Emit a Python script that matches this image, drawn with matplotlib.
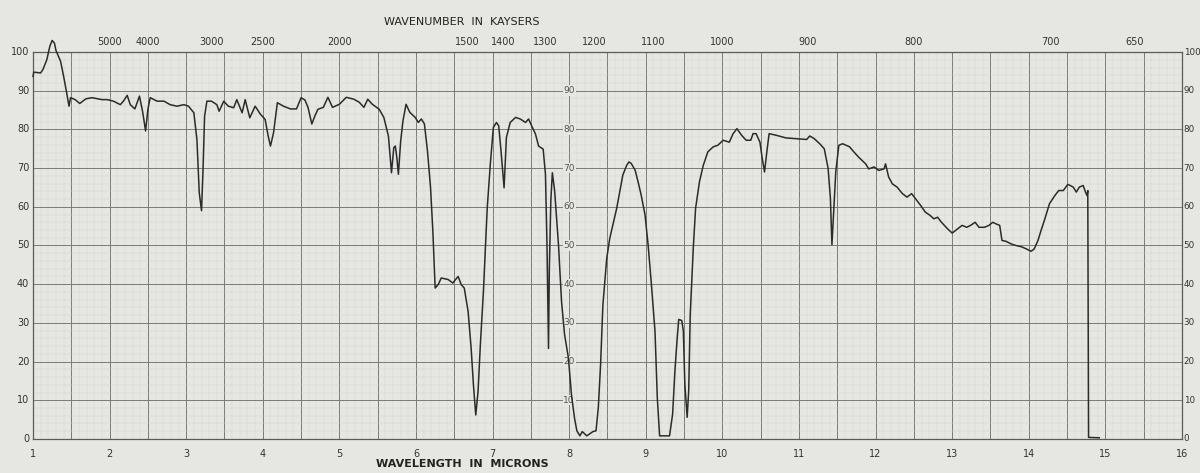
import numpy as np
import matplotlib
matplotlib.use("Agg")
import matplotlib.pyplot as plt

wavelength = [1.00, 1.01, 1.10, 1.13, 1.18, 1.22, 1.25, 1.28, 1.30, 1.36, 1.40, 1.44, 1.47, 1.49,
              1.55, 1.61, 1.69, 1.77, 1.90, 1.97, 2.05, 2.14, 2.18, 2.23, 2.27, 2.33, 2.39, 2.43,
              2.47, 2.50, 2.53, 2.62, 2.71, 2.79, 2.88, 2.97, 3.03, 3.10, 3.14, 3.17, 3.20, 3.22,
              3.24, 3.27, 3.33, 3.40, 3.43, 3.49, 3.55, 3.62, 3.66, 3.73, 3.77, 3.83, 3.90, 3.97,
              4.03, 4.07, 4.10, 4.14, 4.19, 4.27, 4.36, 4.44, 4.50, 4.55, 4.59, 4.64, 4.68, 4.72,
              4.79, 4.85, 4.91, 5.00, 5.09, 5.19, 5.26, 5.32, 5.37, 5.43, 5.52, 5.58, 5.64, 5.68,
              5.71, 5.73, 5.75, 5.77, 5.80, 5.83, 5.87, 5.92, 5.99, 6.03, 6.07, 6.11, 6.15, 6.19,
              6.22, 6.25, 6.29, 6.33, 6.42, 6.48, 6.55, 6.59, 6.63, 6.68, 6.72, 6.75, 6.78, 6.81,
              6.84, 6.88, 6.93, 6.97, 7.01, 7.05, 7.08, 7.11, 7.15, 7.18, 7.23, 7.30, 7.36, 7.43,
              7.47, 7.51, 7.56, 7.60, 7.66, 7.69, 7.71, 7.73, 7.74, 7.76, 7.78, 7.81, 7.86, 7.90,
              7.94, 7.99, 8.03, 8.07, 8.10, 8.14, 8.17, 8.23, 8.31, 8.35, 8.38, 8.41, 8.44, 8.49,
              8.53, 8.57, 8.62, 8.66, 8.70, 8.75, 8.78, 8.81, 8.86, 8.90, 8.94, 8.99, 9.03, 9.07,
              9.12, 9.15, 9.18, 9.31, 9.35, 9.38, 9.41, 9.43, 9.47, 9.49, 9.51, 9.54, 9.56, 9.58,
              9.62, 9.65, 9.70, 9.75, 9.81, 9.88, 9.94, 10.01, 10.09, 10.14, 10.19, 10.25, 10.31,
              10.37, 10.40, 10.44, 10.49, 10.52, 10.55, 10.58, 10.61, 10.70, 10.83, 10.97, 11.10,
              11.14, 11.20, 11.27, 11.33, 11.38, 11.41, 11.43, 11.45, 11.48, 11.52, 11.57, 11.66,
              11.72, 11.78, 11.87, 11.91, 11.98, 12.04, 12.11, 12.13, 12.17, 12.22, 12.28, 12.35,
              12.41, 12.47, 12.52, 12.59, 12.65, 12.71, 12.76, 12.81, 12.86, 12.94, 13.00, 13.07,
              13.13, 13.19, 13.24, 13.30, 13.35, 13.42, 13.48, 13.53, 13.57, 13.62, 13.65, 13.70,
              13.77, 13.83, 13.90, 13.97, 14.03, 14.07, 14.12, 14.16, 14.21, 14.27, 14.34, 14.39,
              14.45, 14.51, 14.58, 14.62, 14.66, 14.71, 14.74, 14.76, 14.77, 14.78, 14.92]
transmission = [93.7, 94.8, 94.6, 95.5, 98.0, 101.5, 103.0, 102.3, 100.4, 97.6, 93.7, 89.4, 86.0, 88.2,
                87.7, 86.7, 87.9, 88.2, 87.7, 87.7, 87.3, 86.4, 87.3, 88.8, 86.4, 85.3, 88.6, 84.7,
                79.6, 85.2, 88.2, 87.3, 87.3, 86.4, 86.0, 86.4, 86.0, 84.3, 77.4, 63.7, 59.0, 69.7,
                83.4, 87.3, 87.3, 86.4, 84.7, 87.3, 86.0, 85.6, 87.7, 84.3, 87.7, 83.0, 86.0, 83.9,
                82.6, 78.3, 75.7, 79.1, 86.9, 86.0, 85.3, 85.3, 88.2, 87.6, 85.7, 81.4, 83.5, 85.2,
                85.7, 88.3, 85.7, 86.5, 88.3, 87.8, 87.0, 85.7, 87.8, 86.5, 85.2, 83.1, 78.3, 68.8,
                75.3, 75.7, 72.7, 68.4, 77.0, 82.2, 86.5, 84.4, 83.1, 81.8, 82.7, 81.4, 74.4, 64.9,
                53.7, 39.0, 39.9, 41.6, 41.2, 40.3, 42.0, 39.9, 39.0, 33.0, 23.4, 13.9, 6.2, 12.2,
                24.3, 38.1, 59.7, 71.0, 80.5, 81.8, 80.9, 74.4, 64.9, 77.9, 81.8, 83.1, 82.7, 81.8,
                82.7, 80.9, 78.8, 75.7, 74.9, 68.4, 50.2, 23.4, 43.3, 61.5, 68.8, 64.1, 50.2, 35.5,
                26.9, 20.9, 11.3, 5.3, 2.1, 0.8, 1.9, 0.8, 1.9, 2.1, 8.1, 19.3, 34.7, 46.7,
                51.9, 55.3, 59.6, 63.9, 68.2, 70.7, 71.6, 71.2, 69.5, 66.4, 63.0, 57.9, 50.2, 40.7,
                27.9, 10.7, 0.8, 0.8, 6.4, 17.6, 26.1, 30.9, 30.6, 27.9, 14.1, 5.6, 12.4, 32.1,
                49.3, 59.6, 66.4, 70.7, 74.2, 75.5, 75.9, 77.2, 76.7, 78.9, 80.2, 78.5, 77.2,
                77.2, 78.9, 78.9, 76.7, 72.5, 69.0, 74.2, 78.9, 78.5, 77.8, 77.6, 77.4,
                78.3, 77.6, 76.3, 75.0, 69.9, 62.2, 50.2, 57.9, 69.0, 75.9, 76.3, 75.5,
                74.1, 72.8, 71.1, 69.8, 70.3, 69.4, 69.8, 71.1, 67.7, 65.9, 65.1, 63.4,
                62.5, 63.4, 62.1, 60.3, 58.6, 57.8, 56.9, 57.3, 56.0, 54.3, 53.2, 54.3,
                55.2, 54.7, 55.2, 56.0, 54.7, 54.7, 55.2, 56.0, 55.6, 55.2, 51.3, 51.1,
                50.4, 50.0, 49.7, 49.1, 48.5, 49.1, 51.3, 53.9, 56.9, 60.8, 62.9, 64.2,
                64.2, 65.8, 65.1, 63.8, 65.1, 65.5, 63.8, 62.9, 64.2, 0.4, 0.3]

micron_ticks = list(range(1, 17))
percent_ticks = list(range(0, 101, 10))
wavenumber_ticks = [5000, 4000, 3000, 2500, 2000, 1500, 1400, 1300, 1200, 1100, 1000, 900, 800, 700, 650]
inner_labels = [10, 20, 30, 40, 50, 60, 70, 80, 90]

paper = '#e6e6e3'
ink = '#2b2b2b'

fig = plt.figure(figsize=(12, 4.73), dpi=100, facecolor=paper)
ax = fig.add_axes([0.0275, 0.072, 0.9575, 0.818], facecolor=paper)

ax.set_xlim(1, 16)
ax.set_ylim(0, 100)

# chart paper grid
ax.set_xticks(np.arange(1, 16.01, 0.5))
ax.set_xticks(np.arange(1, 16.01, 0.1), minor=True)
ax.set_yticks(percent_ticks)
ax.set_yticks(np.arange(0, 101, 2), minor=True)
ax.grid(which='major', color='#7a7a78', lw=0.7)
ax.grid(which='minor', color='#d2d2cf', lw=0.3)
ax.tick_params(which='both', length=0, labelbottom=False, labelleft=False)
for s in ax.spines.values():
    s.set_color('#5a5a5a')
    s.set_linewidth(0.9)

ax.plot(wavelength, transmission, color=ink, lw=1.1, clip_on=False, zorder=5)

fs = 7
for m in micron_ticks:
    ax.text(m, -2.5, str(m), ha='center', va='top', fontsize=fs, color='#333')
for p in percent_ticks:
    ax.text(0.95, p, str(p), ha='right', va='center', fontsize=fs, color='#333')
    ax.text(16.02, p, str(p), ha='left', va='center', fontsize=6.3, color='#333')
for p in inner_labels:
    ax.text(8.0, p, str(p), ha='center', va='center', fontsize=6.5, color='#555',
            bbox=dict(facecolor=paper, edgecolor='none', pad=0.5), zorder=3)
for k in wavenumber_ticks:
    ax.text(10000.0 / k, 101.2, str(k), ha='center', va='bottom', fontsize=fs, color='#333')

ax.text(6.6, 106.5, 'WAVENUMBER  IN  KAYSERS', ha='center', va='bottom', fontsize=8, color='#222')
ax.text(6.6, -5.2, 'WAVELENGTH  IN  MICRONS', ha='center', va='top', fontsize=8,
        color='#222', fontweight='bold')

fig.savefig('out.png', dpi=100, facecolor=paper)
